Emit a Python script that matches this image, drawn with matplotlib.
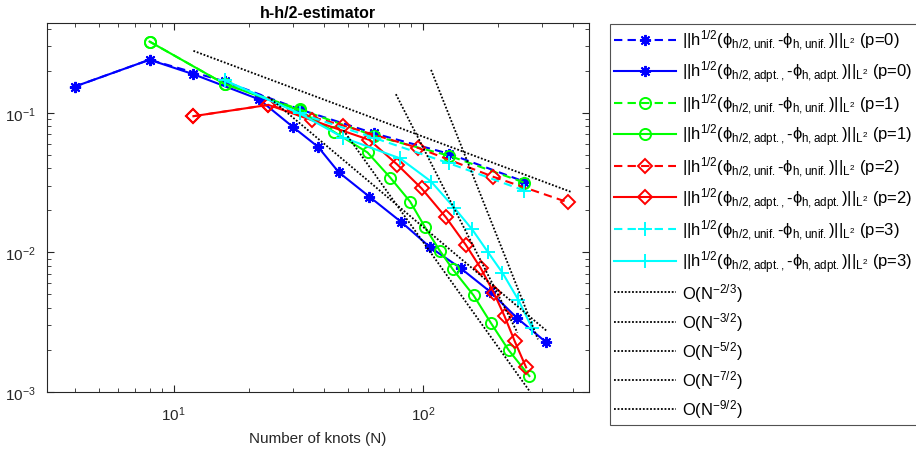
import numpy as np
import matplotlib
matplotlib.use("Agg")
import matplotlib.pyplot as plt

plt.rcParams['font.family'] = ['Liberation Sans', 'DejaVu Sans']
plt.rcParams['mathtext.fontset'] = 'custom'
plt.rcParams['mathtext.rm'] = 'Liberation Sans'
plt.rcParams['mathtext.it'] = 'Liberation Sans:italic'
plt.rcParams['mathtext.default'] = 'regular'
plt.rcParams['axes.unicode_minus'] = False

# --- data ---
# p = 0
n_unif_p0 = [4, 8, 16, 32, 64, 128, 256]
e_unif_p0 = [0.154, 0.240, 0.168, 0.106, 0.0711, 0.0508, 0.0321]
n_adpt_p0 = [4, 8, 12, 22, 30, 38, 46, 61, 82, 107, 142, 187, 239, 313]
e_adpt_p0 = [0.154, 0.240, 0.189, 0.125, 0.0796, 0.057, 0.0375, 0.0251,
             0.0165, 0.0109, 0.0077, 0.00521, 0.00339, 0.00227]
# p = 1
n_unif_p1 = [8, 16, 32, 64, 128, 256]
e_unif_p1 = [0.324, 0.161, 0.106, 0.0683, 0.0492, 0.0316]
n_adpt_p1 = [8, 16, 32, 44, 60, 74, 89, 102, 117, 132, 160, 188, 221, 268]
e_adpt_p1 = [0.324, 0.161, 0.104, 0.0731, 0.052, 0.0344, 0.0231, 0.0152,
             0.0103, 0.00757, 0.00492, 0.00311, 0.0020, 0.0013]
# p = 2
n_unif_p2 = [12, 24, 48, 96, 192, 384]
e_unif_p2 = [0.0946, 0.114, 0.081, 0.056, 0.0348, 0.0228]
n_adpt_p2 = [12, 24, 36, 61, 79, 99, 124, 149, 171, 193, 213, 234, 260]
e_adpt_p2 = [0.0946, 0.114, 0.0884, 0.064, 0.0426, 0.0287, 0.0178, 0.0113,
             0.0077, 0.00513, 0.00349, 0.00231, 0.0015]
# p = 3
n_unif_p3 = [16, 32, 64, 128, 256]
e_unif_p3 = [0.171, 0.099, 0.066, 0.0434, 0.0277]
n_adpt_p3 = [16, 32, 48, 81, 108, 134, 158, 183, 209, 242, 275]
e_adpt_p3 = [0.171, 0.099, 0.0664, 0.0472, 0.0322, 0.0208, 0.0146, 0.0100,
             0.00714, 0.00457, 0.00286]

# reference slopes: rate, first N, last N, value at first N
ref_rates = [2/3, 3/2, 5/2, 7/2, 9/2]
ref_n0 = [12, 24, 48, 78, 108]
ref_n1 = [392, 313, 270, 240, 290]
ref_e0 = [0.278, 0.130, 0.075, 0.136, 0.203]
ref_labels = ['O(N$^{-2/3}$)', 'O(N$^{-3/2}$)', 'O(N$^{-5/2}$)',
              'O(N$^{-7/2}$)', 'O(N$^{-9/2}$)']

lbl_unif = r'||h$^{1/2}$($\phi_{h/2,unif.}$-$\phi_{h,unif.}$)||$_{L^2}$ (p=%d)'
lbl_adpt = r'||h$^{1/2}$($\phi_{h/2,adpt.,}$-$\phi_{h,adpt.}$)||$_{L^2}$ (p=%d)'

fig = plt.figure(figsize=(9.16, 4.56), dpi=100)
ax = fig.add_axes([47/916, 1 - 393/456, (589 - 47)/916, (393 - 24)/456])

series = [
    (n_unif_p0, e_unif_p0, n_adpt_p0, e_adpt_p0, '#0000ff', (8, 2, 0), 8),
    (n_unif_p1, e_unif_p1, n_adpt_p1, e_adpt_p1, '#00ff00', 'o', 8),
    (n_unif_p2, e_unif_p2, n_adpt_p2, e_adpt_p2, '#ff0000', 'D', 7),
    (n_unif_p3, e_unif_p3, n_adpt_p3, e_adpt_p3, '#00ffff', '+', 10),
]
for p, (nu, eu, na, ea, c, m, ms) in enumerate(series):
    ax.plot(nu, eu, linestyle=(0, (4, 2.5)), color=c, marker=m, ms=ms,
            mfc='none', mec=c, mew=1.4, lw=1.5, label=lbl_unif % p)
    ax.plot(na, ea, linestyle='-', color=c, marker=m, ms=ms,
            mfc='none', mec=c, mew=1.4, lw=1.5, label=lbl_adpt % p)

for r, n0, n1, e0, lab in zip(ref_rates, ref_n0, ref_n1, ref_e0, ref_labels):
    nn = np.array([n0, n1], dtype=float)
    ax.plot(nn, e0 * (nn / n0) ** (-r), linestyle=(0, (1, 1)), color='k',
            lw=1.3, label=lab)

ax.set_xscale('log')
ax.set_yscale('log')
ax.set_xlim(3.1, 465)
ax.set_ylim(1e-3, 0.44)
ax.set_title('h-h/2-estimator', fontsize=11.5, fontweight='bold', pad=4)
ax.set_xlabel('Number of knots (N)', fontsize=11, color='#262626', labelpad=6)
ax.tick_params(which='both', direction='in', top=True, right=True,
               colors='#262626', labelsize=11)
ax.tick_params(axis='x', which='major', pad=9)
ax.tick_params(axis='y', which='major', pad=8)
ax.tick_params(which='major', length=5)
ax.tick_params(which='minor', length=3)
for s in ax.spines.values():
    s.set_color('#262626')
    s.set_linewidth(0.8)

leg = ax.legend(loc='upper left', bbox_to_anchor=(610/916, 1 - 25/456),
                bbox_transform=fig.transFigure, fontsize=12, frameon=True,
                fancybox=False, edgecolor='#262626', handlelength=3.7,
                handletextpad=0.4, labelspacing=0.375, borderaxespad=0,
                borderpad=0.25)
leg.get_frame().set_linewidth(0.8)

fig.savefig('out.png', dpi=100)
